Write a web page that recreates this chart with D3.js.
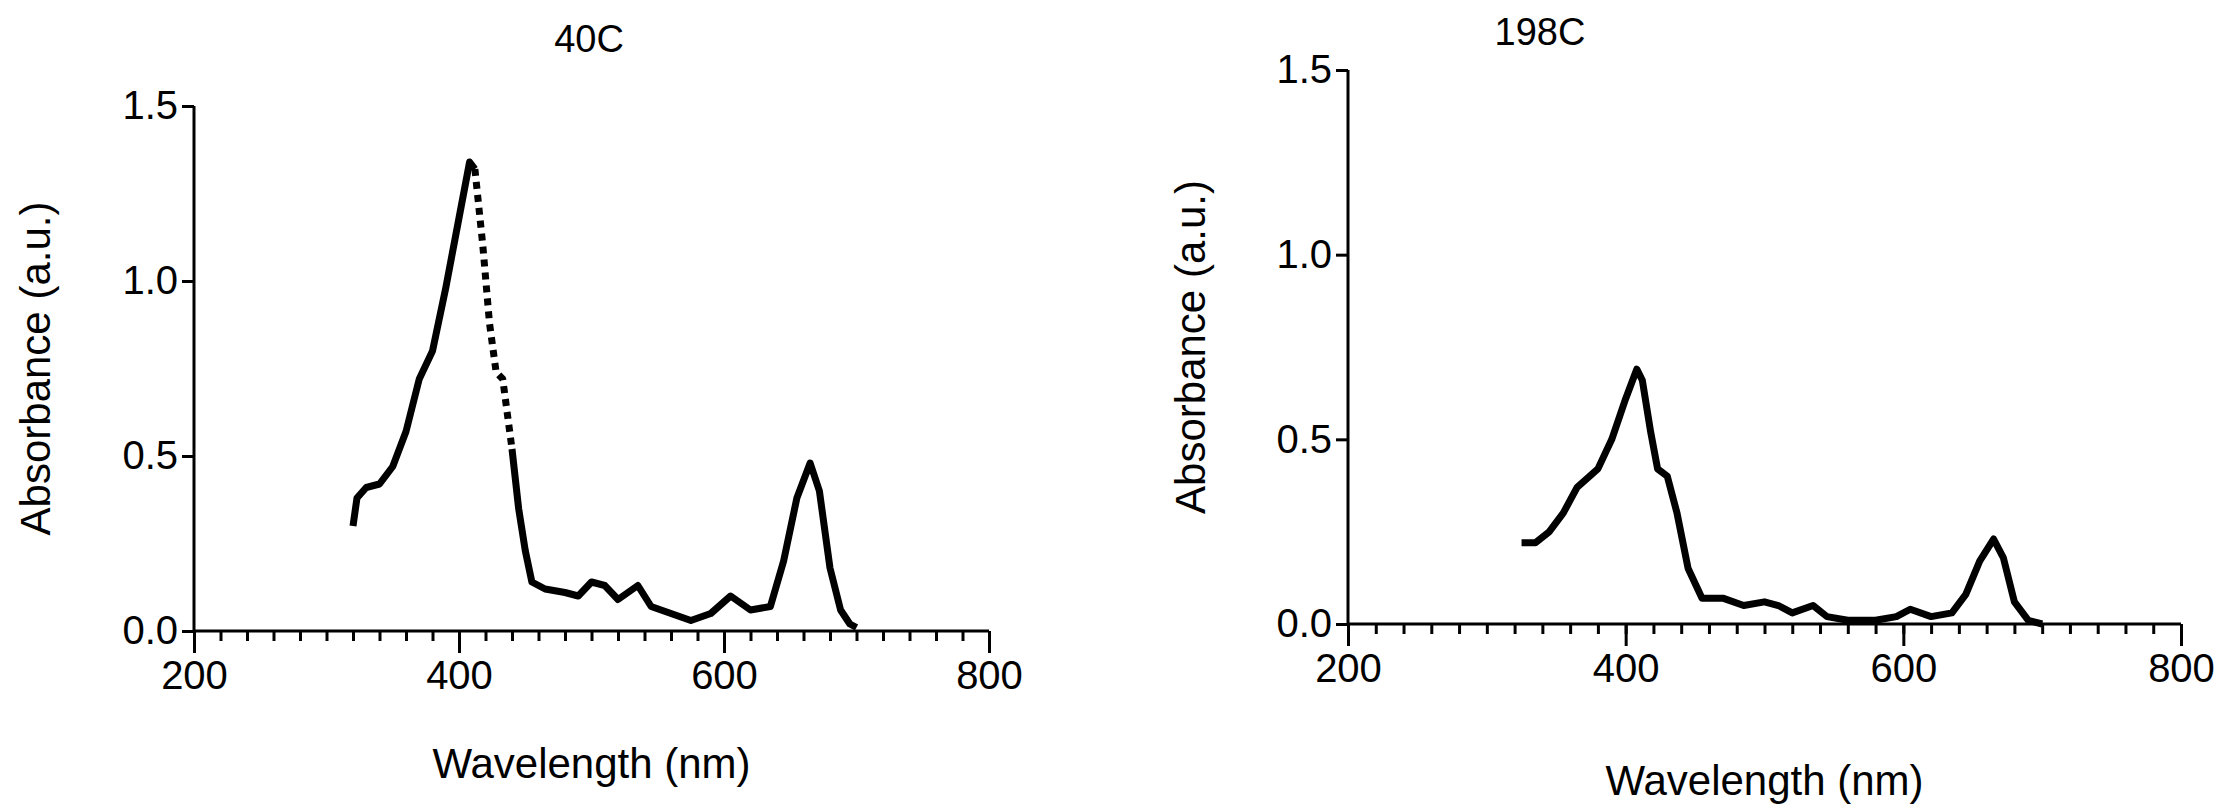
<!DOCTYPE html>
<html><head><meta charset="utf-8">
<script src="https://cdn.jsdelivr.net/npm/d3@7"></script>
<style>body{margin:0;background:#fff}text{font-family:"Liberation Sans",Arial,sans-serif;fill:#000}</style>
</head><body><svg id="c" width="2224" height="809"></svg>
<script>
// spectrum 40C
const wl40 = [320,323,330,340,350,360,370,380,390,400,408,412,418,423,428,433,440,445,450,455,465,480,490,500,510,520,535,545,560,575,590,605,620,635,645,655,665,672,680,688,695,700];
const abs40 = [0.30,0.38,0.41,0.42,0.47,0.57,0.72,0.80,0.98,1.18,1.34,1.32,1.10,0.88,0.74,0.72,0.52,0.35,0.23,0.14,0.12,0.11,0.10,0.14,0.13,0.09,0.13,0.07,0.05,0.03,0.05,0.10,0.06,0.07,0.20,0.38,0.48,0.40,0.18,0.06,0.02,0.01];
// wavelength range drawn dotted in the 40C trace
const dotted40 = [412, 440];
// spectrum 198C
const wl198 = [325,335,345,355,365,380,390,400,408,412,418,423,430,437,445,455,470,485,500,510,520,535,545,560,580,595,605,620,635,645,655,665,672,680,690,700];
const abs198 = [0.22,0.22,0.25,0.30,0.37,0.42,0.50,0.61,0.69,0.66,0.52,0.42,0.40,0.30,0.15,0.07,0.07,0.05,0.06,0.05,0.03,0.05,0.02,0.01,0.01,0.02,0.04,0.02,0.03,0.08,0.17,0.23,0.18,0.06,0.01,0.00];
const yTicks = [0, 0.5, 1.0, 1.5];
const xTicks = [200, 400, 600, 800];

const svg = d3.select('#c');

function panel(o) {
    const x = d3.scaleLinear().domain([200, 800]).range([o.l, o.r]);
    const y = d3.scaleLinear().domain([0, 1.5]).range([o.b, o.t]);
    const g = svg.append('g');

    // x axis: minor ticks every 20, major at labels
    g.append('g').attr('transform', `translate(0,${o.b})`)
        .call(d3.axisBottom(x).tickValues(d3.range(200, 801, 20)).tickSize(10).tickFormat(''))
        .call(a => a.selectAll('line,path').attr('stroke', '#000').attr('stroke-width', 3))
        .call(a => a.select('.domain').attr('d', `M${o.l},0H${o.r}`));
    g.append('g').attr('transform', `translate(0,${o.b})`)
        .call(d3.axisBottom(x).tickValues(xTicks).tickSize(22).tickPadding(8).tickFormat(d3.format('d')))
        .call(a => a.select('.domain').remove())
        .call(a => a.selectAll('line').attr('stroke', '#000').attr('stroke-width', 3))
        .call(a => a.selectAll('text').attr('font-size', 40));

    g.append('g').attr('transform', `translate(${o.l},0)`)
        .call(d3.axisLeft(y).tickValues(yTicks).tickSize(12).tickPadding(4).tickFormat(d3.format('.1f')))
        .call(a => a.select('.domain').attr('d', `M0,${o.b}V${o.t}`))
        .call(a => a.selectAll('line,path').attr('stroke', '#000').attr('stroke-width', 3))
        .call(a => a.selectAll('text').attr('font-size', 40));

    const pts = o.wl.map((w, i) => [w, o.abs[i]]);
    const line = d3.line().x(d => x(d[0])).y(d => y(d[1]));
    const draw = (p, dash) => g.append('path').attr('d', line(p)).attr('fill', 'none')
        .attr('stroke', '#000').attr('stroke-width', 7).attr('stroke-linejoin', 'round')
        .attr('stroke-dasharray', dash);
    if (o.dotted) {
        const [d0, d1] = o.dotted;
        draw(pts.filter(d => d[0] <= d0), null);
        draw(pts.filter(d => d[0] >= d0 && d[0] <= d1), '7 6');
        draw(pts.filter(d => d[0] >= d1), null);
    } else {
        draw(pts, null);
    }

    g.append('text').attr('x', o.tx).attr('y', o.ty).attr('text-anchor', 'middle')
        .attr('font-size', 38).text(o.title);
    g.append('text').attr('x', (o.l + o.r) / 2).attr('y', o.xly).attr('text-anchor', 'middle')
        .attr('font-size', 42).text('Wavelength (nm)');
    g.append('text').attr('transform', `translate(${o.ylx},${(o.t + o.b) / 2}) rotate(-90)`)
        .attr('text-anchor', 'middle').attr('font-size', 42).text('Absorbance (a.u.)');
}

panel({l: 194, r: 989, t: 106, b: 631, wl: wl40, abs: abs40, dotted: dotted40, title: '40C', tx: 589, ty: 52, xly: 778, ylx: 50});
panel({l: 1348, r: 2181, t: 70, b: 624, wl: wl198, abs: abs198, title: '198C', tx: 1540, ty: 45, xly: 795, ylx: 1205});
</script></body></html>
